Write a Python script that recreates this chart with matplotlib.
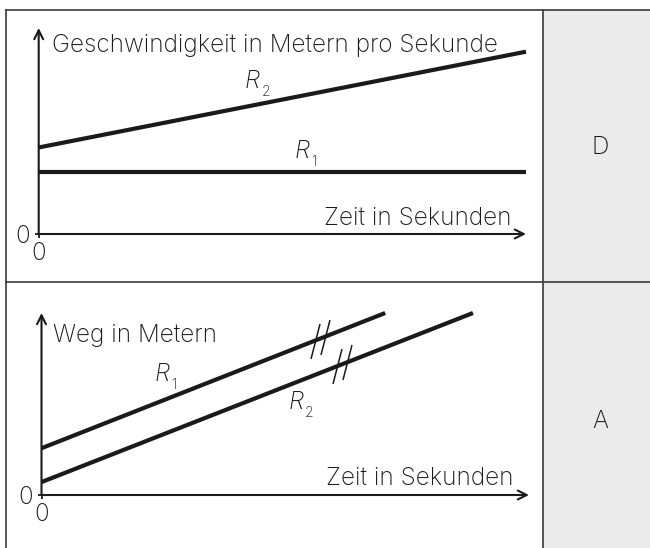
import numpy as np
import matplotlib
matplotlib.use('Agg')
import matplotlib.pyplot as plt
from matplotlib.path import Path
from matplotlib.patches import Rectangle
from matplotlib.lines import Line2D

plt.rcParams['font.family'] = ['Inter', 'DejaVu Sans']
plt.rcParams['font.weight'] = 'light'

# top panel: speed over time
t_speed = [0, 10]
v_R1 = [3.0, 3.0]
v_R2 = [4.2, 8.85]

# bottom panel: distance over time
t_R1 = [0, 7.05]
s_R1 = [2.57, 10]
t_R2 = [0, 8.85]
s_R2 = [0.71, 10]
break_t = [5.72, 6.17]   # where the "//" marks sit on R1, R2

answers = ['D', 'A']

W, H = 650, 548
FS = 17.5
fig = plt.figure(figsize=(W / 100, H / 100), dpi=100)

def fx(px):
    return px / W

def fy(py):
    return 1 - py / H

ink = '#1a1a1a'

# table background + borders
fig.patches.append(Rectangle((fx(543), 0), 1 - fx(543), fy(10), transform=fig.transFigure,
                             facecolor='#ebebeb', edgecolor='none', zorder=0))
for xs, ys in [((6, 650), (10, 10)), ((6, 6), (10, 548)), ((6, 650), (282, 282)), ((543, 543), (10, 548))]:
    fig.add_artist(Line2D([fx(xs[0]), fx(xs[1])], [fy(ys[0]), fy(ys[1])], transform=fig.transFigure,
                          color='#3a3a3a', lw=1.2))

# break mark: two slanted strokes
brk = Path([(-9.5, -19.5), (-0.5, 15.5), (0.5, -15.5), (9.5, 19.5)],
           [Path.MOVETO, Path.LINETO, Path.MOVETO, Path.LINETO])


def setup(ax):
    ax.set_xlim(0, 10)
    ax.set_ylim(0, 10)
    for sp in ax.spines.values():
        sp.set_visible(False)
    ax.patch.set_alpha(0)
    ax.set_xticks([0])
    ax.set_yticks([0])
    ax.tick_params(length=3.2, width=1.3, color=ink, labelsize=FS, labelcolor=ink)
    ax.tick_params(axis='x', pad=2.5)
    ax.tick_params(axis='y', pad=3)
    arrow = dict(arrowstyle='->', lw=1.5, color=ink, shrinkA=0, shrinkB=0, mutation_scale=16)
    ax.annotate('', xy=(1, 0), xytext=(0, 0), xycoords='axes fraction', arrowprops=arrow)
    ax.annotate('', xy=(0, 1), xytext=(0, 0), xycoords='axes fraction', arrowprops=arrow)


def rlabel(ax, x, y, sub):
    ax.text(x, y, 'R', fontsize=FS, style='italic', color=ink, ha='left', va='baseline')
    ax.annotate(sub, xy=(x, y), xytext=(12, -6), textcoords='offset points',
                fontsize=10, color=ink, ha='left', va='baseline')


# top panel
ax1 = fig.add_axes([fx(38.7), fy(234), fx(526) - fx(38.7), fy(28) - fy(234)])
setup(ax1)
ax1.plot(t_speed, v_R1, color=ink, lw=3, solid_capstyle='butt', clip_on=False)
ax1.plot(t_speed, v_R2, color=ink, lw=3, solid_capstyle='butt', clip_on=False)
ax1.text(0.27, 8.83, 'Geschwindigkeit in Metern pro Sekunde', fontsize=FS, color=ink,
         ha='left', va='baseline')
ax1.text(9.71, 0.44, 'Zeit in Sekunden', fontsize=FS, color=ink, ha='right', va='baseline')
rlabel(ax1, 4.23, 7.09, '2')
rlabel(ax1, 5.26, 3.69, '1')

# bottom panel
ax2 = fig.add_axes([fx(41.5), fy(495), fx(529) - fx(41.5), fy(313) - fy(495)])
setup(ax2)
ax2.plot(t_R1, s_R1, color=ink, lw=3, solid_capstyle='butt', clip_on=False)
ax2.plot(t_R2, s_R2, color=ink, lw=3, solid_capstyle='butt', clip_on=False)
brk_y = [np.interp(break_t[0], t_R1, s_R1), np.interp(break_t[1], t_R2, s_R2)]
ax2.plot(break_t, brk_y, ls='none', marker=brk, markersize=28, markeredgewidth=1.1,
         markeredgecolor=ink, markerfacecolor='none', clip_on=False)
ax2.text(0.24, 8.41, 'Weg in Metern', fontsize=FS, color=ink, ha='left', va='baseline')
ax2.text(9.69, 0.55, 'Zeit in Sekunden', fontsize=FS, color=ink, ha='right', va='baseline')
rlabel(ax2, 2.31, 6.26, '1')
rlabel(ax2, 5.06, 4.73, '2')

# answer column
fig.text(fx(600), fy(148), answers[0], fontsize=FS, color=ink, ha='center', va='center')
fig.text(fx(600), fy(422), answers[1], fontsize=FS, color=ink, ha='center', va='center')

fig.savefig('out.png', dpi=100, facecolor='white')
